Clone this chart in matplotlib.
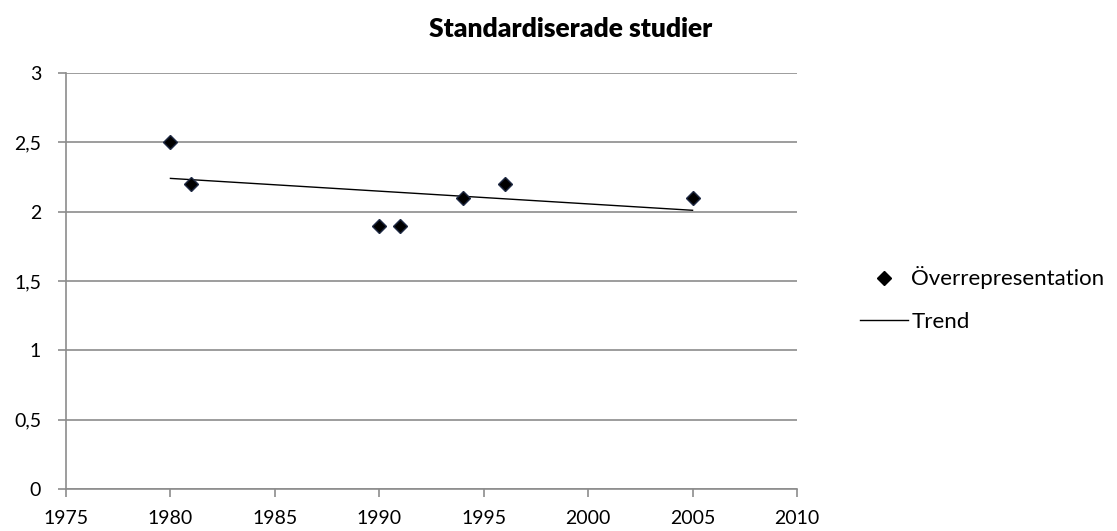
import matplotlib.pyplot as plt
from matplotlib.lines import Line2D
from matplotlib.ticker import FuncFormatter

years = [1980, 1981, 1990, 1991, 1994, 1996, 2005]
values = [2.5, 2.2, 1.9, 1.9, 2.1, 2.2, 2.1]
trend_x = [1980, 2005]
trend_y = [2.24, 2.01]

plt.rcParams['font.family'] = ['Lato', 'DejaVu Sans']

fig = plt.figure(figsize=(11.17, 5.31), dpi=100)
ax = fig.add_axes([0.0591, 0.0791, 0.6544, 0.7834])

ax.plot(years, values, linestyle='none', marker='D', markersize=7.5,
        color='black', markeredgecolor='#1f2a44', zorder=3)
ax.plot(trend_x, trend_y, color='black', linewidth=1, zorder=2)

ax.set_xlim(1975, 2010)
ax.set_ylim(0, 3)
ax.set_xticks(range(1975, 2011, 5))
ax.set_yticks([0, 0.5, 1, 1.5, 2, 2.5, 3])
ax.yaxis.set_major_formatter(FuncFormatter(lambda v, p: ('%g' % v).replace('.', ',')))
ax.yaxis.grid(True, color='#8c8c8c', linewidth=1.2)
ax.set_axisbelow(True)

for s in ['top', 'right']:
    ax.spines[s].set_visible(False)
for s in ['left', 'bottom']:
    ax.spines[s].set_color('#8c8c8c')
    ax.spines[s].set_linewidth(1.2)
ax.tick_params(axis='both', colors='#8c8c8c', width=1.2, length=6, labelsize=14,
               labelcolor='black')
ax.tick_params(axis='y', pad=12)
ax.tick_params(axis='x', pad=9)

fig.text(0.511, 0.945, 'Standardiserade studier', ha='center', va='center',
         fontsize=19, fontweight='heavy')

handles = [Line2D([], [], linestyle='none', marker='D', markersize=7.5, color='black'),
           Line2D([], [], color='black', linewidth=1)]
fig.legend(handles, ['Överrepresentation', 'Trend'], loc='center left',
           bbox_to_anchor=(0.770, 0.437), frameon=False, fontsize=16,
           borderpad=0, borderaxespad=0,
           handlelength=2.16, handletextpad=0.15, labelspacing=1.0)

fig.savefig('out.png', dpi=100)
